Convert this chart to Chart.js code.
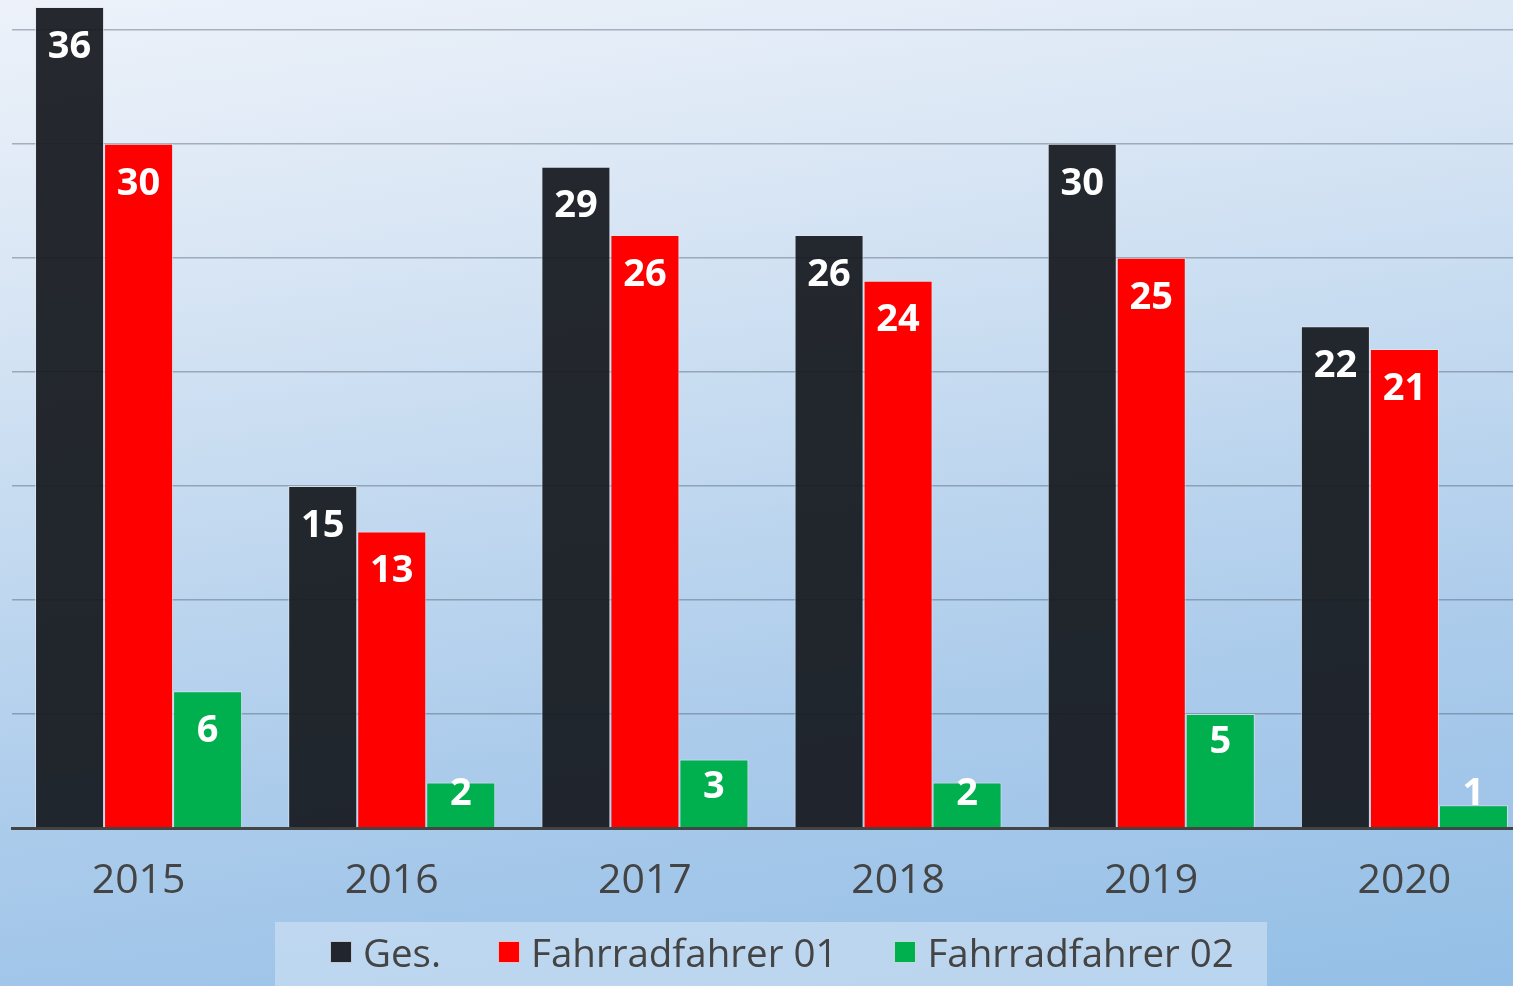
<!DOCTYPE html>
<html>
<head>
<meta charset="utf-8">
<script src="https://cdn.jsdelivr.net/npm/chart.js@4"></script>
<style>
  html, body {
    margin: 0;
    padding: 0;
    width: 1513px;
    height: 986px;
    overflow: hidden;
    background: linear-gradient(172deg, #edf2fa 0%, #dbe7f5 22%, #c4daf0 45%, #abcbeb 70%, #94bfe6 100%);
    font-family: 'Open Sans', sans-serif;
  }
  #wrap { position: absolute; left: 0; top: 0; width: 1531px; height: 986px; }
  #legende {
    position: absolute;
    left: 275px;
    top: 922px;
    width: 937px;
    height: 60px;
    padding: 0 0 4px 55px;
    background: rgba(215, 230, 245, 0.55);
    display: flex;
    align-items: center;
    color: #444;
    font-size: 38.5px;
  }
  #legende .eintrag { display: flex; align-items: center; margin-right: 57px; white-space: nowrap; }
  #legende .kasten {
    width: 20px;
    height: 20px;
    border: 1px solid rgba(225, 228, 235, 0.85);
    margin-right: 11px;
  }
</style>
</head>
<body>
<div id="wrap"><canvas id="grafico" width="1531" height="986"></canvas></div>
<div id="legende"></div>
<script>
const jahre = ["2015", "2016", "2017", "2018", "2019", "2020"];
const serienNamen = ["Ges.", "Fahrradfahrer 01", "Fahrradfahrer 02"];
const gesamt = [36, 15, 29, 26, 30, 22];
const fahrrad01 = [30, 13, 26, 24, 25, 21];
const fahrrad02 = [6, 2, 3, 2, 5, 1];
const farben = ["rgba(22,25,30,0.93)", "#ff0000", "#00b04f"];

// Werte in die Balken schreiben
const wertePlugin = {
  id: "werte",
  afterDatasetsDraw(chart) {
    const ctx = chart.ctx;
    const basis = chart.scales.y.getPixelForValue(0);
    ctx.save();
    ctx.font = "bold 38px 'Open Sans'";
    ctx.fillStyle = "#fff";
    ctx.textAlign = "center";
    ctx.textBaseline = "middle";
    chart.data.datasets.forEach((ds, i) => {
      chart.getDatasetMeta(i).data.forEach((bar, j) => {
        const hoehe = basis - bar.y;
        const abstand = hoehe > 120 ? 40 : 28;
        const y = Math.min(bar.y + abstand, basis - 34);
        ctx.fillText(ds.data[j], bar.x, y);
      });
    });
    ctx.restore();
  }
};

const ctx = document.getElementById("grafico").getContext("2d");

const chart = new Chart(ctx, {
  type: "bar",
  data: {
    labels: jahre,
    datasets: [gesamt, fahrrad01, fahrrad02].map((werte, i) => ({
      label: serienNamen[i],
      data: werte,
      backgroundColor: farben[i],
      borderColor: "rgba(225,228,235,0.75)",
      borderWidth: 1,
      barPercentage: 1,
      categoryPercentage: 0.818
    }))
  },
  options: {
    responsive: false,
    animation: false,
    devicePixelRatio: 1,
    layout: { padding: { left: 12, top: 7, right: 0, bottom: 64 } },
    scales: {
      x: {
        grid: { display: false, drawTicks: false },
        border: { display: true, color: "#444", width: 3 },
        ticks: {
          color: "#444",
          padding: 29,
          font: { family: "'Open Sans'", size: 41 }
        },
        afterFit: (s) => { s.height = 94; }
      },
      y: {
        min: 0,
        max: 36,
        ticks: { display: false, stepSize: 5 },
        border: { display: false },
        grid: {
          drawTicks: false,
          color: (c) => (c.tick.value === 0 || c.tick.value === 36) ? "rgba(0,0,0,0)" : "rgba(70,82,100,0.4)",
          lineWidth: 1.5
        }
      }
    },
    plugins: {
      tooltip: { enabled: false },
      legend: { display: false }
    }
  },
  plugins: [wertePlugin]
});

// Legende aus den Datensätzen
const legende = document.getElementById("legende");
chart.data.datasets.forEach((ds) => {
  const eintrag = document.createElement("div");
  eintrag.className = "eintrag";
  const kasten = document.createElement("span");
  kasten.className = "kasten";
  kasten.style.background = ds.backgroundColor;
  const text = document.createElement("span");
  text.textContent = ds.label;
  eintrag.appendChild(kasten);
  eintrag.appendChild(text);
  legende.appendChild(eintrag);
});
</script>
</body>
</html>
